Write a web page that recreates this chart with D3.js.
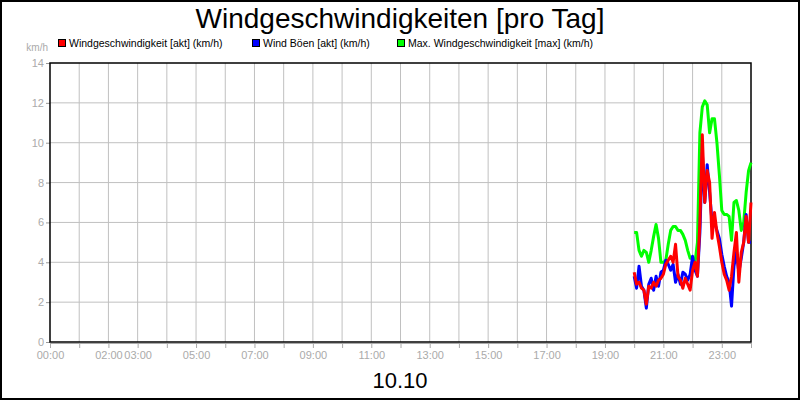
<!DOCTYPE html>
<html>
<head>
<meta charset="utf-8">
<script src="https://cdn.jsdelivr.net/npm/d3@7"></script>
<style>
body { margin: 0; background: #fff; }
svg text { font-family: "Liberation Sans", Arial, sans-serif; }
</style>
</head>
<body>
<div id="chart"></div>
<script>
// Messwerte (5-Minuten-Raster, 20:00 - 24:00)
var times = ["20:00","20:05","20:10","20:15","20:20","20:25","20:30","20:35","20:40","20:45","20:50","20:55",
             "21:00","21:05","21:10","21:15","21:20","21:25","21:30","21:35","21:40","21:45","21:50","21:55",
             "22:00","22:05","22:10","22:15","22:20","22:25","22:30","22:35","22:40","22:45","22:50","22:55",
             "23:00","23:05","23:10","23:15","23:20","23:25","23:30","23:35","23:40","23:45","23:50","23:55","24:00"];

var windAkt = [3.5,2.9,3.0,2.7,2.6,1.9,2.8,2.7,3.0,2.8,3.1,3.2,
               3.4,3.9,4.1,4.3,4.0,4.9,3.3,3.1,2.7,3.2,2.9,2.6,
               3.6,4.0,3.3,6.0,10.4,7.0,8.6,8.0,5.2,6.5,5.5,4.8,
               4.0,3.4,3.1,2.6,3.3,4.5,5.5,3.0,4.5,5.0,6.3,5.0,7.0];

var windBoeen = [3.3,2.7,3.8,2.8,2.6,1.7,2.9,3.2,2.6,3.3,2.8,3.5,
                 3.6,4.1,3.9,3.6,3.9,3.0,3.4,2.9,3.5,3.4,3.1,3.4,
                 4.3,3.6,3.3,5.5,9.5,7.0,8.9,7.5,6.0,6.0,5.6,5.2,
                 4.4,3.8,3.3,3.0,1.8,3.8,4.5,3.5,4.2,5.0,6.4,5.0,5.0];

var windMax = [5.5,5.5,4.6,4.3,4.6,4.5,4.0,4.6,5.3,5.9,5.2,4.0,
               4.0,4.1,4.9,5.6,5.8,5.8,5.6,5.6,5.4,5.1,4.6,4.2,
               4.2,4.0,5.0,10.5,11.8,12.1,11.9,10.5,11.2,11.2,10.0,8.4,
               6.6,6.4,6.4,6.3,5.1,7.0,7.1,6.6,5.6,6.0,7.5,8.6,9.0];

var seriesNames = ["Windgeschwindigkeit [akt] (km/h)", "Wind Böen [akt] (km/h)", "Max. Windgeschwindigkeit [max] (km/h)"];
var seriesColors = ["#ff0000", "#0000ff", "#00ff00"];

var xLabelHours = [0, 2, 3, 5, 7, 9, 11, 13, 15, 17, 19, 21, 23];
var yTicks = [0, 2, 4, 6, 8, 10, 12, 14];

var width = 800, height = 400;

var svg = d3.select("#chart").append("svg")
  .attr("width", width)
  .attr("height", height);

// Rahmen
svg.append("rect")
  .attr("x", 1).attr("y", 1)
  .attr("width", width - 2).attr("height", height - 2)
  .style("fill", "#fff")
  .style("stroke", "#000")
  .style("stroke-width", 2);

var x = d3.scaleLinear().domain([0, 24 * 60]).range([50, 751]);
var y = d3.scaleLinear().domain([0, 14]).range([342, 63]);

function toMin(t) {
  var p = t.split(":");
  return (+p[0]) * 60 + (+p[1]);
}

// Titel
svg.append("text")
  .attr("x", 400).attr("y", 28)
  .attr("text-anchor", "middle")
  .style("font-size", "28px")
  .text("Windgeschwindigkeiten [pro Tag]");

// Legende
var legendX = [58, 252, 397];
var lg = svg.selectAll(".legend").data(seriesNames).enter().append("g").attr("class", "legend");
lg.append("rect")
  .attr("x", function(d, i) { return legendX[i] + 0.5; })
  .attr("y", 39.5)
  .attr("width", 7).attr("height", 7)
  .style("fill", function(d, i) { return seriesColors[i]; })
  .style("stroke", "#000");
lg.append("text")
  .attr("x", function(d, i) { return legendX[i] + 11; })
  .attr("y", 47)
  .style("font-size", "10.5px")
  .text(function(d) { return d; });

svg.append("text")
  .attr("x", 48).attr("y", 51)
  .attr("text-anchor", "end")
  .style("font-size", "10px")
  .style("fill", "#aaa")
  .text("km/h");

// Gitter
var hours = d3.range(1, 24);
svg.append("g").selectAll("line").data(hours).enter().append("line")
  .attr("x1", function(h) { return x(h * 60); })
  .attr("x2", function(h) { return x(h * 60); })
  .attr("y1", y(14)).attr("y2", y(0))
  .style("stroke", "#c0c0c0").style("stroke-width", 1);

svg.append("g").selectAll("line").data(yTicks.slice(1, -1)).enter().append("line")
  .attr("x1", x(0)).attr("x2", x(1440))
  .attr("y1", function(d) { return y(d); })
  .attr("y2", function(d) { return y(d); })
  .style("stroke", "#c0c0c0").style("stroke-width", 1);

// Achsen
var yAxis = d3.axisLeft(y).tickValues(yTicks).tickSize(4).tickPadding(2).tickFormat(d3.format("d"));
var gy = svg.append("g").attr("transform", "translate(" + x(0) + ",0)").call(yAxis);
gy.select(".domain").remove();
gy.selectAll("line").style("stroke", "#999");
gy.selectAll("text").style("fill", "#aaa").style("font-size", "11px").style("font-family", "Liberation Sans, Arial, sans-serif");

var xAxis = d3.axisBottom(x).tickValues(d3.range(0, 25).map(function(h) { return h * 60; }))
  .tickSize(5).tickPadding(3)
  .tickFormat(function(m) {
    var h = m / 60;
    return xLabelHours.indexOf(h) >= 0 ? (h < 10 ? "0" + h : h) + ":00" : "";
  });
var gx = svg.append("g").attr("transform", "translate(0," + (y(0) + 1) + ")").call(xAxis);
gx.select(".domain").style("stroke", "#aaa");
gx.selectAll("line").style("stroke", "#aaa");
gx.selectAll("text").style("fill", "#aaa").style("font-size", "11px").style("font-family", "Liberation Sans, Arial, sans-serif");

// Plotrahmen
svg.append("rect")
  .attr("x", x(0)).attr("y", y(14))
  .attr("width", x(1440) - x(0)).attr("height", y(0) - y(14))
  .style("fill", "none").style("stroke", "#000").style("stroke-width", 1.5);

// Linien
var allSeries = [windAkt, windBoeen, windMax];
var line = d3.line()
  .x(function(d, i) { return x(toMin(times[i])); })
  .y(function(d) { return y(d); });

[2, 1, 0].forEach(function(k) {
  svg.append("path")
    .datum(allSeries[k])
    .attr("d", line)
    .style("fill", "none")
    .style("stroke", seriesColors[k])
    .style("stroke-width", 3)
    .style("stroke-linejoin", "round");
});

// Datum
svg.append("text")
  .attr("x", 400).attr("y", 388)
  .attr("text-anchor", "middle")
  .style("font-size", "22px")
  .text("10.10");
</script>
</body>
</html>
